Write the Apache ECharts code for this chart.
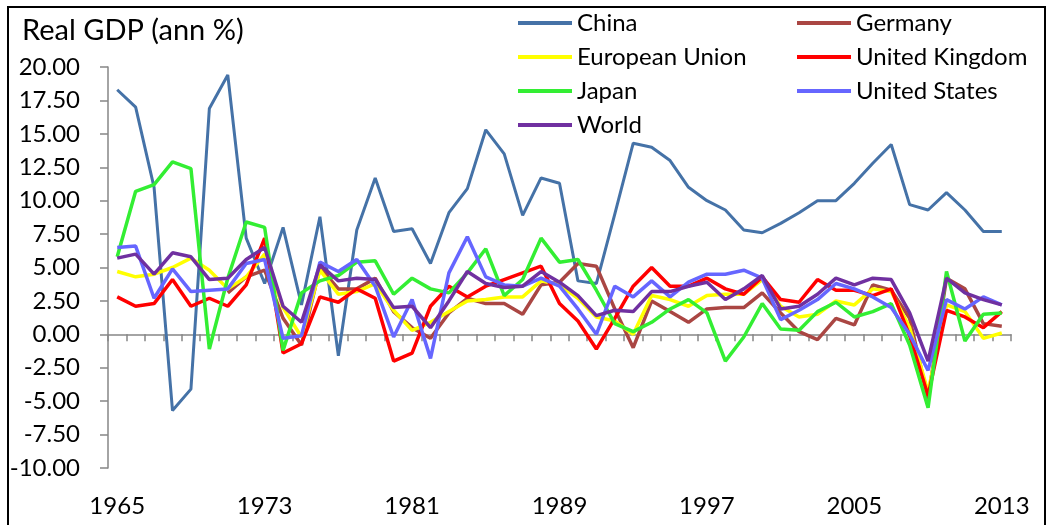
<!DOCTYPE html>
<html lang="en">
<head>
    <meta charset="UTF-8">
    <title>Real GDP (ann %)</title>
    <script src="https://cdn.jsdelivr.net/npm/echarts@6.0.0/dist/echarts.min.js"></script>
    <style>
        html, body { margin: 0; padding: 0; background: #fff; }
    </style>
</head>
<body>
    <div id="main" style="width: 1048px;height:525px;"></div>

    <script>
        // years 1965 - 2013
        var years = [];
        for (var y = 1965; y <= 2013; y++) years.push(String(y));

        var china = [18.3, 17.0, 11.0, -5.7, -4.1, 16.9, 19.4, 7.2, 3.8, 8.0,
            2.2, 8.8, -1.6, 7.8, 11.7, 7.7, 7.9, 5.3, 9.1, 10.9,
            15.3, 13.5, 8.9, 11.7, 11.3, 4.0, 3.8, 9.0, 14.3, 14.0,
            13.0, 11.0, 10.0, 9.3, 7.8, 7.6, 8.3, 9.1, 10.0, 10.0,
            11.3, 12.8, 14.2, 9.7, 9.3, 10.6, 9.3, 7.7, 7.7];
        var germany = [null, null, null, null, null, null, 3.1, 4.3, 4.8, 1.2,
            -0.8, 5.0, 3.4, 3.4, 4.2, 1.7, 0.5, -0.3, 1.6, 2.7,
            2.3, 2.3, 1.5, 3.7, 3.9, 5.3, 5.1, 1.9, -1.0, 2.5,
            1.7, 0.9, 1.9, 2.0, 2.0, 3.1, 1.6, 0.2, -0.4, 1.2,
            0.7, 3.7, 3.3, 1.2, -4.8, 4.2, 3.4, 0.8, 0.6];
        var eu = [4.7, 4.3, 4.5, 5.0, 5.7, 4.8, 3.4, 4.3, 6.0, 2.0,
            -0.2, 4.8, 3.0, 3.2, 3.8, 1.8, 0.3, 0.9, 1.7, 2.5,
            2.6, 2.8, 2.8, 4.0, 3.7, 2.7, 1.3, 1.0, 0.0, 2.9,
            2.6, 2.1, 2.9, 3.0, 3.0, 4.1, 2.1, 1.3, 1.5, 2.5,
            2.2, 3.4, 3.2, 0.5, -4.3, 2.2, 1.7, -0.3, 0.1];
        var uk = [2.8, 2.1, 2.3, 4.1, 2.1, 2.7, 2.1, 3.7, 7.2, -1.4,
            -0.7, 2.8, 2.4, 3.4, 2.7, -2.0, -1.4, 2.1, 3.6, 2.8,
            3.6, 4.1, 4.6, 5.1, 2.3, 1.0, -1.1, 1.2, 3.6, 5.0,
            3.6, 3.6, 4.2, 3.4, 3.0, 4.3, 2.6, 2.4, 4.1, 3.3,
            3.3, 2.9, 3.4, -0.1, -4.6, 1.8, 1.3, 0.5, 1.7];
        var japan = [5.8, 10.7, 11.2, 12.9, 12.4, -1.1, 4.2, 8.4, 8.0, -1.2,
            3.1, 4.0, 4.4, 5.4, 5.5, 3.0, 4.2, 3.4, 3.1, 4.6,
            6.4, 2.9, 4.1, 7.2, 5.4, 5.6, 3.3, 0.8, 0.2, 0.9,
            1.9, 2.6, 1.6, -2.0, -0.2, 2.3, 0.4, 0.3, 1.7, 2.4,
            1.3, 1.7, 2.3, -0.8, -5.5, 4.7, -0.5, 1.5, 1.6];
        var us = [6.5, 6.6, 2.7, 4.9, 3.2, 3.3, 3.4, 5.3, 5.6, -0.3,
            -0.1, 5.4, 4.7, 5.6, 3.6, -0.2, 2.6, -1.8, 4.6, 7.3,
            4.3, 3.7, 3.6, 4.2, 3.6, 1.9, 0.0, 3.6, 2.8, 4.0,
            2.8, 3.9, 4.5, 4.5, 4.8, 4.2, 1.1, 1.8, 2.6, 3.8,
            3.4, 2.8, 2.0, 0.0, -2.7, 2.6, 1.9, 2.8, 2.2];
        var world = [5.7, 6.0, 4.5, 6.1, 5.8, 4.1, 4.2, 5.6, 6.5, 2.1,
            0.9, 5.2, 4.0, 4.2, 4.1, 2.0, 2.1, 0.5, 2.5, 4.7,
            3.8, 3.5, 3.6, 4.7, 3.9, 2.9, 1.4, 1.8, 1.7, 3.2,
            3.2, 3.6, 3.9, 2.6, 3.4, 4.4, 1.9, 2.1, 3.0, 4.2,
            3.7, 4.2, 4.1, 1.6, -2.0, 4.2, 3.1, 2.6, 2.2];

        var font = 'Lato';
        var axisGrey = '#868686';

        function line(name, data, color, width) {
            return {
                name: name,
                type: 'line',
                data: data,
                symbol: 'none',
                connectNulls: false,
                lineStyle: { color: color, width: width },
                itemStyle: { color: color }
            };
        }

        var legendText = { fontFamily: font, fontSize: 24, color: '#000', lineHeight: 26 };

        var myChart = echarts.init(document.getElementById('main'));
        var option = {
            animation: false,
            backgroundColor: '#fff',
            title: {
                text: 'Real GDP (ann %)',
                left: 17,
                top: 11,
                textStyle: { fontFamily: font, fontSize: 29, fontWeight: 'normal', color: '#000' }
            },
            graphic: [{
                type: 'rect',
                shape: { x: 8, y: 7, width: 1037, height: 530 },
                style: { fill: 'none', stroke: '#000', lineWidth: 2 },
                silent: true
            }],
            legend: [{
                orient: 'vertical',
                left: 513,
                top: 5,
                itemGap: 8,
                itemWidth: 54,
                itemHeight: 4,
                icon: 'rect',
                data: ['China', 'European Union', 'Japan', 'World'],
                textStyle: legendText
            }, {
                orient: 'vertical',
                left: 792,
                top: 5,
                itemGap: 8,
                itemWidth: 54,
                itemHeight: 4,
                icon: 'rect',
                data: ['Germany', 'United Kingdom', 'United States'],
                textStyle: legendText
            }],
            grid: { left: 108, right: 37, top: 67, bottom: 57 },
            xAxis: [{
                type: 'category',
                data: years,
                boundaryGap: true,
                axisLine: { onZero: true, lineStyle: { color: axisGrey, width: 1.5 } },
                axisTick: { show: true, interval: 0, length: 7, lineStyle: { color: axisGrey, width: 1.5 } },
                axisLabel: { show: false },
                splitLine: { show: false }
            }, {
                type: 'category',
                data: years,
                position: 'bottom',
                boundaryGap: true,
                axisLine: { show: false, onZero: false },
                axisTick: { show: false },
                axisLabel: { interval: 7, margin: 26, fontFamily: font, fontSize: 24, color: '#000' },
                splitLine: { show: false }
            }],
            yAxis: {
                type: 'value',
                min: -10,
                max: 20,
                interval: 2.5,
                axisLine: { show: true, onZero: false, lineStyle: { color: axisGrey, width: 1.5 } },
                axisTick: { show: true, length: 8, lineStyle: { color: axisGrey, width: 1.5 } },
                axisLabel: {
                    margin: 28,
                    fontFamily: font,
                    fontSize: 24,
                    color: '#000',
                    formatter: function (v) { return v.toFixed(2); }
                },
                splitLine: { show: false }
            },
            series: [
                line('China', china, '#4572A7', 3),
                line('Germany', germany, '#AA4643', 3.5),
                line('European Union', eu, '#FFFF00', 3.5),
                line('United Kingdom', uk, '#FF0000', 3.5),
                line('Japan', japan, '#33EE33', 3.5),
                line('United States', us, '#6666FF', 3.5),
                line('World', world, '#7030A0', 3.5)
            ]
        };

        myChart.setOption(option);
    </script>
</body>
</html>
